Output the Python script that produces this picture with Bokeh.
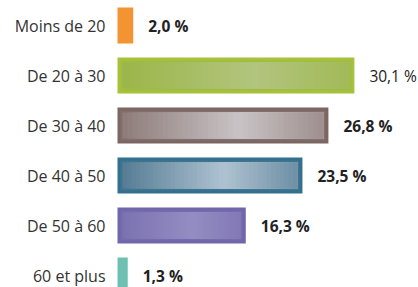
from bokeh.plotting import figure
from bokeh.models import Range1d, ColumnDataSource
from bokeh.embed import file_html
from bokeh.resources import INLINE
from bokeh.core.properties import value

categories = ["Moins de 20", "De 20 à 30", "De 30 à 40", "De 40 à 50", "De 50 à 60", "60 et plus"]
values = [2.0, 30.1, 26.8, 23.5, 16.3, 1.3]
labels = ["2,0 %", "30,1 %", "26,8 %", "23,5 %", "16,3 %", "1,3 %"]
label_styles = ["bold", "normal", "bold", "bold", "bold", "bold"]
edge_colors = ["#F29431", "#A6C23B", "#7B6662", "#33708E", "#7066AA", "#6EC1B2"]
inner_dark = ["#F29431", "#9BB546", "#8A7775", "#4F7890", "#7A70B0", "#6EC1B2"]
inner_light = ["#F29431", "#B2C47E", "#C9C3C5", "#AFC2D1", "#948DC2", "#6EC1B2"]

W, H = 418, 287
PX_PER_UNIT = 7.87
X0_PX = 117  # distance from frame left to value 0
p = figure(width=W, height=H, output_backend="svg", toolbar_location=None,
           x_axis_type=None, y_axis_type=None,
           x_range=Range1d(-X0_PX / PX_PER_UNIT, (W - X0_PX) / PX_PER_UNIT),
           y_range=Range1d((H - 25) / 50, -25 / 50),
           min_border=0, min_border_left=0, min_border_right=0,
           min_border_top=0, min_border_bottom=0)
p.grid.visible = False
p.outline_line_color = None
p.background_fill_color = "white"

ys = list(range(len(categories)))
src = ColumnDataSource(dict(y=ys, v=values, c=edge_colors, cat=categories,
                            lab=labels, st=label_styles))
p.hbar(y="y", left=0, right="v", height=0.72, fill_color="c", line_color=None, source=src)


def hx(h):
    h = h.lstrip("#")
    return [int(h[i:i + 2], 16) for i in (0, 2, 4)]


def mix(a, b, t):
    A, B = hx(a), hx(b)
    return "#%02x%02x%02x" % tuple(int(round(A[i] + (B[i] - A[i]) * t)) for i in range(3))


# soft ring between border and inner gradient
rl, rr, ry, rc = [], [], [], []
ring = 3 / PX_PER_UNIT
for i, v in enumerate(values):
    if v * PX_PER_UNIT < 25:
        continue
    rl.append(ring)
    rr.append(v - ring)
    ry.append(ys[i])
    rc.append(mix(edge_colors[i], inner_dark[i], 0.5))
p.hbar(y=ry, left=rl, right=rr, height=0.72 - 2 * 3 / 50, fill_color=rc, line_color=None)

inset = 5 / PX_PER_UNIT
N = 40
gl, gr, gy, gc = [], [], [], []
for i, v in enumerate(values):
    if v * PX_PER_UNIT < 25:
        continue
    a, b = inset, v - inset
    for k in range(N):
        l = a + (b - a) * k / N
        t = (k + 0.5) / N
        f = max(0.0, 1 - abs(t - 0.58) / 0.62)
        gl.append(l)
        gr.append(b)
        gy.append(ys[i])
        gc.append(mix(inner_dark[i], inner_light[i], f))
p.hbar(y=gy, left=gl, right=gr, height=0.72 - 2 * 5 / 50, fill_color=gc, line_color=None)

p.text(x=0, y="y", text="cat", source=src, x_offset=-12, text_align="right",
       text_baseline="middle", text_font=value("Open Sans"), text_font_size="16px",
       text_color="#333333")
p.text(x="v", y="y", text="lab", source=src, x_offset=15, text_align="left",
       text_baseline="middle", text_font=value("Open Sans"), text_font_size="15.5px",
       text_font_style="st", text_color="#222222")

open("out.html", "w").write(file_html(p, INLINE))
